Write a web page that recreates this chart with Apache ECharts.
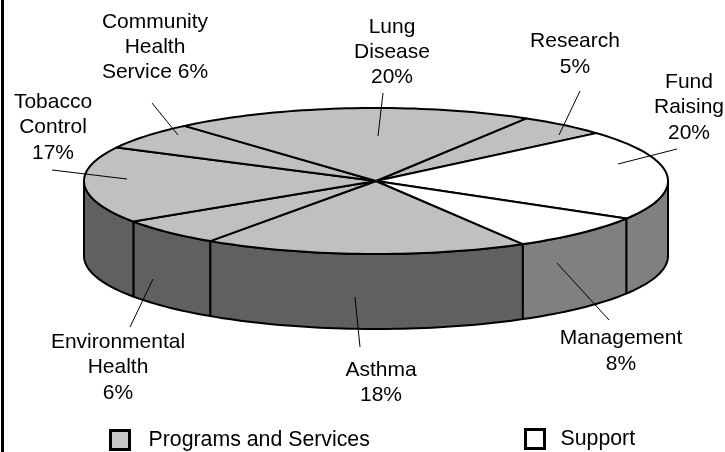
<!DOCTYPE html>
<html>
<head>
<meta charset="utf-8">
<style>
  html, body { margin: 0; padding: 0; background: #fff; }
  #main { width: 725px; height: 452px; }
</style>
</head>
<body>
<div id="main"></div>
<script src="https://cdn.jsdelivr.net/npm/echarts@6/dist/echarts.min.js"></script>
<script>
// slices go clockwise from startAngle
var sliceNames = ['Research', 'Fund Raising', 'Management', 'Asthma', 'Environmental Health', 'Tobacco Control', 'Community Health Service', 'Lung Disease']
var sliceValues = [5, 20, 8, 18, 6, 17, 6, 20]
var sliceGroups = [0, 1, 1, 0, 0, 0, 0, 0]
var groupNames = ['Programs and Services', 'Support']

// label text, one entry per slice
var labelLines = [
  ['Research', '5%'],
  ['Fund', 'Raising', '20%'],
  ['Management', '8%'],
  ['Asthma', '18%'],
  ['Environmental', 'Health', '6%'],
  ['Tobacco', 'Control', '17%'],
  ['Community', 'Health', 'Service 6%'],
  ['Lung', 'Disease', '20%']
]

// pie geometry
var cx = 376, cy = 181, rx = 292, ry = 73, depth = 75
var startAngle = 59
var topColors = ['#c0c0c0', '#ffffff']
var sideColors = ['#606060', '#808080']
var font = 'Liberation Sans, Arial, sans-serif'
var fontSize = 21

// label anchors: x, first line y, line height, leader line
var labelPos = [
  { x: 575, y: 41, lh: 26, line: [580, 91, 559, 135] },
  { x: 689, y: 82, lh: 25.5, line: [677, 149, 618, 164] },
  { x: 621, y: 338, lh: 26, line: [557, 263, 609, 320] },
  { x: 381, y: 370, lh: 25, line: [355, 297, 360, 347] },
  { x: 118, y: 342, lh: 25.5, line: [153, 279, 130, 327] },
  { x: 53, y: 102, lh: 25.5, line: [52, 170, 127, 179] },
  { x: 155, y: 22, lh: 25, line: [152, 103, 178, 135] },
  { x: 392, y: 27, lh: 25, line: [383, 93, 378, 136] }
]

var total = sliceValues.reduce(function (a, b) { return a + b }, 0)
var sliceAngles = []
var acc = startAngle
sliceValues.forEach(function (v) {
  var next = acc - v / total * 360
  sliceAngles.push([acc, next])
  acc = next
})

function rimPoint (deg, dy) {
  var r = deg * Math.PI / 180
  return [cx + rx * Math.cos(r), cy - ry * Math.sin(r) + (dy || 0)]
}

function arcPoints (from, to, dy) {
  var pts = []
  var n = Math.max(2, Math.ceil(Math.abs(from - to) / 1.5))
  for (var i = 0; i <= n; i++) {
    pts.push(rimPoint(from + (to - from) * i / n, dy))
  }
  return pts
}

// the part of [from, to] on the front half of the rim (0 to -180)
function frontRange (from, to) {
  var a = Math.min(from, 0)
  var b = Math.max(to, -180)
  return a > b ? [a, b] : null
}

function renderSlice (params, api) {
  var idx = api.value(0)
  var ang = sliceAngles[idx]
  var grp = sliceGroups[idx]
  var children = []
  var front = frontRange(ang[0], ang[1])
  if (front) {
    var upper = arcPoints(front[0], front[1], 0)
    var lower = arcPoints(front[1], front[0], depth)
    children.push({
      type: 'polygon',
      shape: { points: upper.concat(lower) },
      style: { fill: sideColors[grp], stroke: '#000', lineWidth: 2, lineJoin: 'round' }
    })
  }
  children.push({
    type: 'polygon',
    shape: { points: [[cx, cy]].concat(arcPoints(ang[0], ang[1], 0)) },
    style: { fill: topColors[grp], stroke: '#000', lineWidth: 2, lineJoin: 'round' }
  })
  return { type: 'group', children: children }
}

function groupData (g) {
  var out = []
  sliceGroups.forEach(function (sg, i) {
    if (sg === g) out.push([i, sliceValues[i]])
  })
  return out
}

var graphics = [
  { type: 'rect', shape: { x: 1, y: 0, width: 3, height: 452 }, style: { fill: '#000' }, z: 10 }
]
labelPos.forEach(function (p, i) {
  graphics.push({
    type: 'line',
    shape: { x1: p.line[0], y1: p.line[1], x2: p.line[2], y2: p.line[3] },
    style: { stroke: '#000', lineWidth: 1 },
    z: 20
  })
  labelLines[i].forEach(function (t, j) {
    graphics.push({
      type: 'text',
      x: p.x,
      y: p.y + j * p.lh,
      style: { text: t, fill: '#000', font: fontSize + 'px ' + font, align: 'center', verticalAlign: 'middle' },
      z: 20
    })
  })
})

function legendFor (name, fill, left, top, gap) {
  return {
    left: left,
    top: top,
    padding: 0,
    itemWidth: 19,
    itemHeight: 19,
    selectedMode: false,
    data: [{
      name: name,
      icon: 'rect',
      itemStyle: { color: fill, borderColor: '#000', borderWidth: 3 }
    }],
    textStyle: { color: '#000', fontFamily: font, fontSize: 21.3, padding: [0, 0, 6, gap] }
  }
}

var chart = echarts.init(document.getElementById('main'), null, { renderer: 'canvas' })
chart.setOption({
  animation: false,
  backgroundColor: '#fff',
  legend: [
    legendFor(groupNames[0], '#c8c8c8', 109, 429, 14),
    legendFor(groupNames[1], '#ffffff', 524, 428, 11)
  ],
  graphic: graphics,
  series: [
    { type: 'custom', name: groupNames[0], coordinateSystem: 'none', silent: true, itemStyle: { color: '#c8c8c8' }, renderItem: renderSlice, data: groupData(0) },
    { type: 'custom', name: groupNames[1], coordinateSystem: 'none', silent: true, itemStyle: { color: '#ffffff' }, renderItem: renderSlice, data: groupData(1) }
  ]
})
</script>
</body>
</html>
